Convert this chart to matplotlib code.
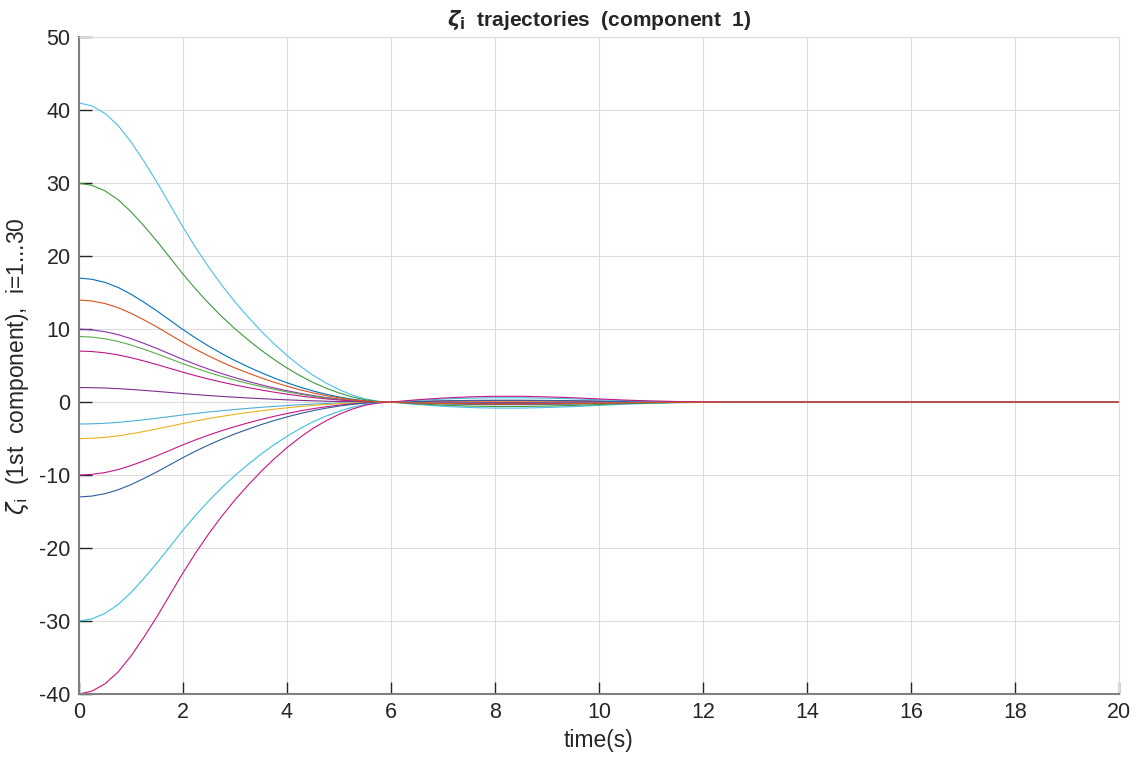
import numpy as np
import matplotlib
matplotlib.use("Agg")
import matplotlib.pyplot as plt

plt.rcParams['font.family'] = ['Liberation Sans', 'DejaVu Sans']
plt.rcParams['mathtext.fontset'] = 'dejavusans'
plt.rcParams['axes.unicode_minus'] = False

# --- Data --- #
# initial values of the visible trajectories (first component)
init_vals = [41, 30, 17, 10, 9, 7, 2, -3, -5, -10, -13, -30, -40, 14]
line_colors = ['#4DBEEE', '#3C9A3C', '#0072BD', '#8E2FB0', '#5AAE4A', '#C0168A', '#7E2F8E',
               '#4DB0D8', '#EDB120', '#C81485', '#2F5E9A', '#3CC0E0', '#C8147F', '#D95319']

# normalised shape of a trajectory (value / initial value) over time
t_pts = [0, 0.25, 0.5, 0.75, 1.0, 1.25, 1.5, 1.75, 2.0, 2.25, 2.5, 2.75, 3.0, 3.25, 3.5,
         3.75, 4.0, 4.25, 4.5, 4.75, 5.0, 5.25, 5.5, 5.75, 6.0, 6.5, 7.0, 7.5, 8.0, 8.5,
         9.0, 9.5, 10.0, 10.5, 11.0, 11.5, 12.0, 12.5, 13.0, 20.0]
shape = [1.0, 0.99, 0.965, 0.925, 0.87, 0.805, 0.735, 0.66, 0.585, 0.515, 0.45, 0.39, 0.335,
         0.285, 0.238, 0.195, 0.156, 0.121, 0.09, 0.064, 0.042, 0.024, 0.011, 0.003, 0.0,
         -0.008, -0.014, -0.018, -0.02, -0.02, -0.018, -0.015, -0.011, -0.007, -0.004,
         -0.002, -0.001, 0.0, 0.0, 0.0]

# --- Plot --- #
fig = plt.figure(figsize=(11.36, 7.6), dpi=100)
ax = fig.add_axes([0.0695, 0.0868, 0.9155, 0.8642])

t = np.array(t_pts)
for x0, c in zip(init_vals, line_colors):
    ax.plot(t, x0 * np.array(shape), color=c, linewidth=0.8)

ax.set_xlim(0, 20)
ax.set_ylim(-40, 50)
ax.set_xticks(np.arange(0, 21, 2))
ax.set_yticks(np.arange(-40, 51, 10))
ax.grid(True, color='#dcdcdc', linewidth=0.8)
ax.set_axisbelow(True)

for side in ['left', 'bottom']:
    ax.spines[side].set_color('#808080')
    ax.spines[side].set_linewidth(1.5)
for side in ['top', 'right']:
    ax.spines[side].set_color('#dcdcdc')
    ax.spines[side].set_linewidth(0.8)

ax.tick_params(direction='in', length=9, width=1, color='#262626', labelsize=15.5,
               labelcolor='#262626', top=False, right=False, pad=6)

ax.set_xlabel('time(s)', fontsize=16.5, color='#262626', labelpad=4)
ax.set_ylabel(r'$\zeta_{\mathrm{i}}$  (1st  component),  i=1...30', fontsize=16.5, color='#262626',
              labelpad=6)
ax.set_title(r'$\boldsymbol{\zeta}_{\mathbf{i}}$  trajectories  (component  1)', fontsize=15,
             fontweight='bold', color='#262626', pad=8)

fig.savefig('out.png', dpi=100)
